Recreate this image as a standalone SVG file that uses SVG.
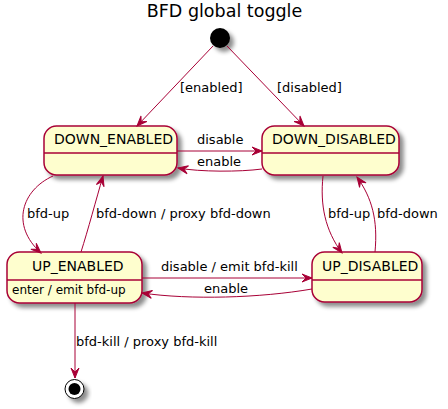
<svg xmlns="http://www.w3.org/2000/svg" width="448" height="409" viewBox="0 0 448 409">
<style>
text{font-family:"DejaVu Sans","Liberation Sans",sans-serif;fill:#000}
.t{font-size:17.5px}
.n{font-size:14px}
.l{font-size:13px}
.a{font-size:12px}
.box{fill:#FEFECE;stroke:#A80036;stroke-width:1.5}
.div{stroke:#A80036;stroke-width:1.5}
.e{fill:none;stroke:#A80036;stroke-width:1;marker-end:url(#ar)}
</style>
<defs>
<filter id="sh" x="-30%" y="-30%" width="170%" height="170%">
<feGaussianBlur in="SourceAlpha" stdDeviation="2" result="b"/>
<feColorMatrix in="b" type="matrix" values="0 0 0 0 0 0 0 0 0 0 0 0 0 0 0 0 0 0 0.45 0" result="c"/>
<feOffset in="c" dx="4" dy="4" result="o"/>
<feMerge><feMergeNode in="o"/><feMergeNode in="SourceGraphic"/></feMerge>
</filter>
<marker id="ar" markerUnits="userSpaceOnUse" markerWidth="11" markerHeight="10" refX="10" refY="4" orient="auto" overflow="visible">
<path d="M0,0 L10,4 L0,8 L4,4 Z" fill="#A80036" stroke="#A80036" stroke-width="1"/>
</marker>
</defs>
<text class="t" x="224.5" y="17" text-anchor="middle">BFD global toggle</text>

<g id="start"><circle cx="220" cy="38" r="10" fill="#000" filter="url(#sh)"/></g>

<g id="DOWN_ENABLED">
<rect class="box" x="44" y="126" width="133" height="49" rx="12.5" filter="url(#sh)"/>
<line class="div" x1="44" y1="153" x2="177" y2="153"/>
<text class="n" x="54" y="144">DOWN_ENABLED</text>
</g>
<g id="DOWN_DISABLED">
<rect class="box" x="262" y="126" width="137" height="49" rx="12.5" filter="url(#sh)"/>
<line class="div" x1="262" y1="153" x2="399" y2="153"/>
<text class="n" x="272" y="144">DOWN_DISABLED</text>
</g>
<g id="UP_ENABLED">
<rect class="box" x="7" y="252" width="135" height="51" rx="12.5" filter="url(#sh)"/>
<line class="div" x1="7" y1="280" x2="142" y2="280"/>
<text class="n" x="32" y="271">UP_ENABLED</text>
<text class="a" x="12" y="294">enter / emit bfd-up</text>
</g>
<g id="UP_DISABLED">
<rect class="box" x="312" y="252" width="110" height="50" rx="12.5" filter="url(#sh)"/>
<line class="div" x1="312" y1="280" x2="422" y2="280"/>
<text class="n" x="322" y="271">UP_DISABLED</text>
</g>
<g id="end">
<g filter="url(#sh)">
<circle cx="74.5" cy="389" r="9.5" fill="#fff" stroke="#000" stroke-width="1"/>
<circle cx="74.5" cy="389" r="6" fill="#000"/>
</g>
</g>

<g id="connectors">
<path class="e" d="M213,46 L137,126"/>
<text class="l" x="180" y="92">[enabled]</text>
<path class="e" d="M227,46 L304,126"/>
<text class="l" x="277" y="92">[disabled]</text>
<path class="e" d="M177,151 L262,151"/>
<text class="l" x="197" y="144">disable</text>
<path class="e" d="M262,169 C240,172 200,172 178,168"/>
<text class="l" x="197" y="166">enable</text>
<path class="e" d="M53,176 C22,190 10,225 41,253"/>
<text class="l" x="27" y="218">bfd-up</text>
<path class="e" d="M81,252 C88,230 96,200 103,176"/>
<text class="l" x="96" y="218">bfd-down / proxy bfd-down</text>
<path class="e" d="M323,176 C320,205 325,230 342,253"/>
<text class="l" x="328" y="218">bfd-up</text>
<path class="e" d="M375,252 C378,220 372,198 357,177"/>
<text class="l" x="377" y="218">bfd-down</text>
<path class="e" d="M142,278 L312,278"/>
<text class="l" x="161" y="271">disable / emit bfd-kill</text>
<path class="e" d="M312,289 C260,298 190,300 142,293"/>
<text class="l" x="204" y="293">enable</text>
<path class="e" d="M75,303 L75,378"/>
<text class="l" x="76" y="346">bfd-kill / proxy bfd-kill</text>
</g>
</svg>
